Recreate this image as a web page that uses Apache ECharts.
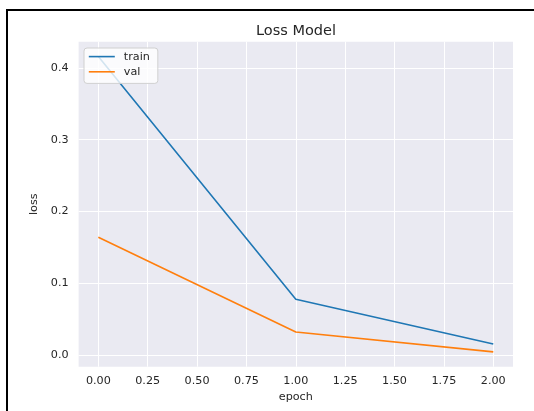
<!DOCTYPE html>
<html>
<head>
<meta charset="utf-8">
<script src="https://cdn.jsdelivr.net/npm/echarts@6/dist/echarts.min.js"></script>
<style>html,body{margin:0;padding:0;background:#fff;}#c{width:534px;height:411px;}</style>
</head>
<body>
<div id="c"></div>
<script>
const epochs = [0, 1, 2];
const trainLoss = [0.416, 0.0777, 0.0153];
const valLoss = [0.164, 0.032, 0.0043];
const xTicks = [0, 0.25, 0.5, 0.75, 1.0, 1.25, 1.5, 1.75, 2.0];
const yTicks = [0, 0.1, 0.2, 0.3, 0.4];

const chart = echarts.init(document.getElementById('c'), null, {renderer: 'canvas'});
const FONT = 'DejaVu Sans';
const TXT = '#262626';
chart.setOption({
  animation: false,
  backgroundColor: '#ffffff',
  title: {
    text: 'Loss Model', left: 291, top: 19, textAlign: 'center',
    textStyle: {fontFamily: FONT, fontSize: 14.5, fontWeight: 'normal', color: TXT}
  },
  legend: {
    orient: 'vertical', left: 84, top: 48,
    padding: [3, 8, 6, 4], itemGap: 4, itemWidth: 26, itemHeight: 14,
    backgroundColor: 'rgba(255,255,255,0.8)', borderColor: '#d0d0d0', borderWidth: 1, borderRadius: 3,
    itemStyle: {opacity: 0},
    lineStyle: {width: 1.6},
    textStyle: {fontFamily: FONT, fontSize: 11.2, color: TXT, padding: [0, 0, 0, 4]},
    data: ['train', 'val']
  },
  grid: {left: 78.6, right: 21, top: 41.7, bottom: 44.3, show: true, backgroundColor: '#EAEAF2', borderWidth: 0},
  xAxis: {
    type: 'value', min: -0.1, max: 2.1,
    name: 'epoch', nameLocation: 'middle', nameGap: 24,
    nameTextStyle: {fontFamily: FONT, fontSize: 11.2, color: TXT},
    axisLine: {show: false}, axisTick: {show: false, customValues: xTicks},
    axisLabel: {customValues: xTicks, margin: 9, fontFamily: FONT, fontSize: 11.2, color: TXT,
      formatter: v => v.toFixed(2)},
    splitLine: {show: true, lineStyle: {color: '#ffffff', width: 1}}
  },
  yAxis: {
    type: 'value', min: -0.0163, max: 0.4366,
    name: 'loss', nameLocation: 'middle', nameGap: 28, nameRotate: 90,
    nameTextStyle: {fontFamily: FONT, fontSize: 11.2, color: TXT},
    axisLine: {show: false}, axisTick: {show: false, customValues: yTicks},
    axisLabel: {customValues: yTicks, margin: 10, fontFamily: FONT, fontSize: 11.2, color: TXT,
      formatter: v => v.toFixed(1)},
    splitLine: {show: true, lineStyle: {color: '#ffffff', width: 1}}
  },
  series: [
    {name: 'train', type: 'line', data: epochs.map((e, i) => [e, trainLoss[i]]), symbol: 'none',
      lineStyle: {color: '#1f77b4', width: 1.6}, itemStyle: {color: '#1f77b4'}, z: 2},
    {name: 'val', type: 'line', data: epochs.map((e, i) => [e, valLoss[i]]), symbol: 'none',
      lineStyle: {color: '#ff7f0e', width: 1.6}, itemStyle: {color: '#ff7f0e'}, z: 2}
  ],
  graphic: [
    {type: 'polyline', shape: {points: [[7, 411], [7, 10], [534, 10]]}, style: {stroke: '#000', lineWidth: 2, fill: null}, z: 100},
    {type: 'text', x: 35, y: -1, style: {text: 'g', font: '28px "Liberation Serif"', fill: '#000', verticalAlign: 'bottom'}, z: 100}
  ]
});
</script>
</body>
</html>
